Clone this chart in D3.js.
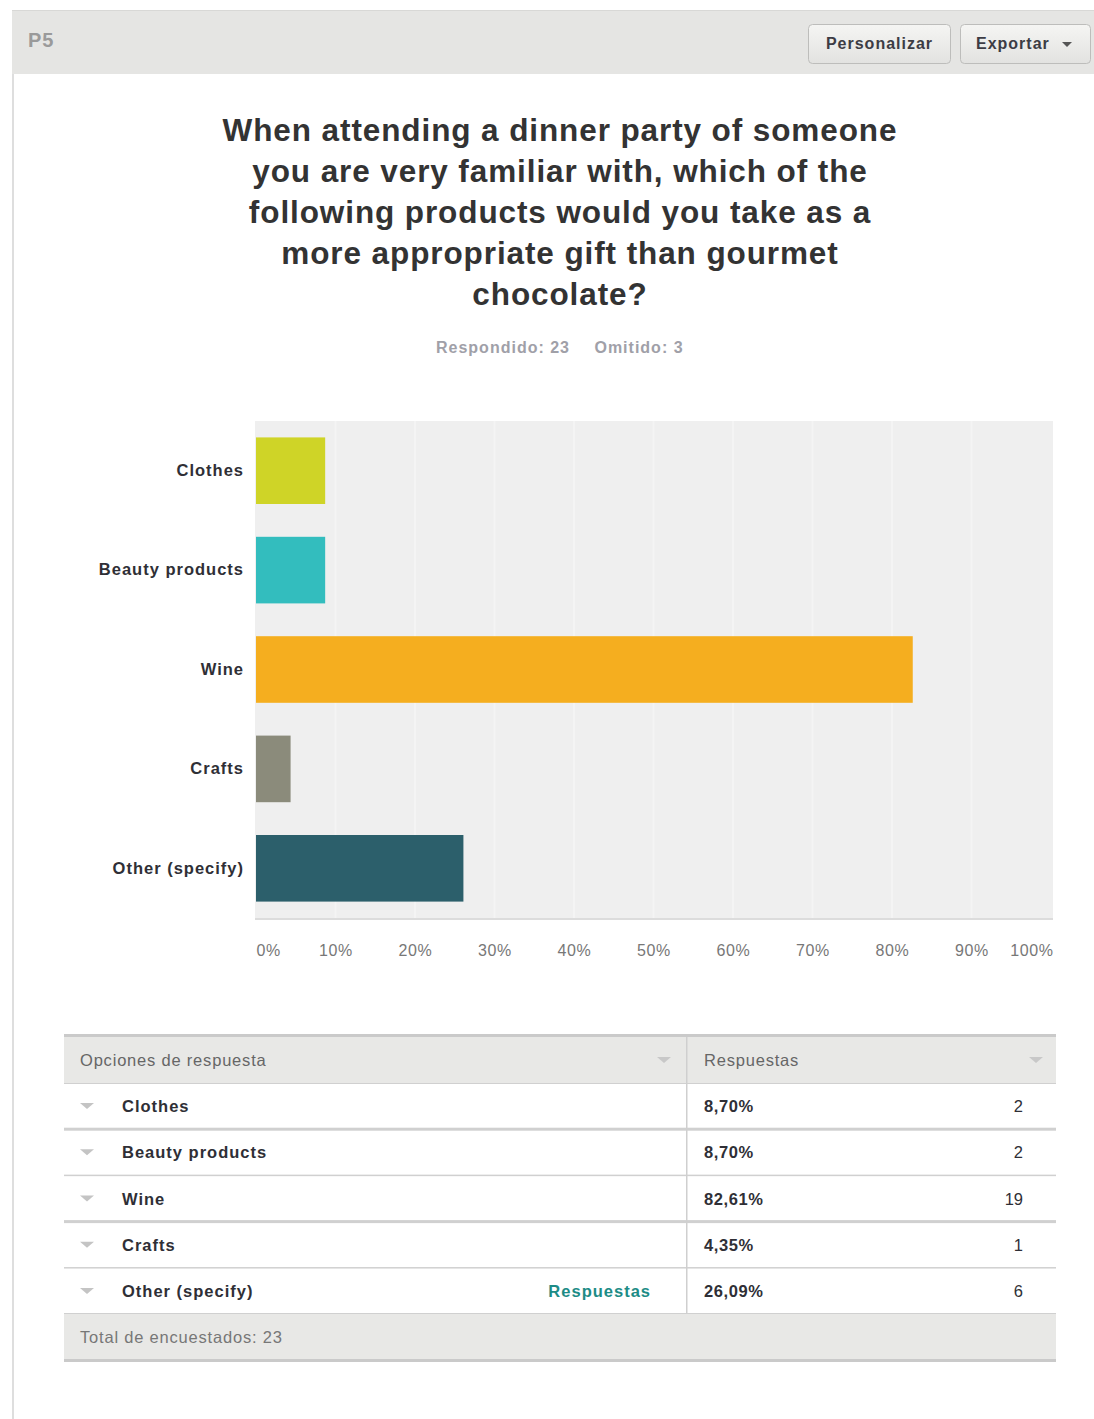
<!DOCTYPE html>
<html><head><meta charset="utf-8">
<script src="https://cdn.jsdelivr.net/npm/d3@7"></script>
<style>
html,body{margin:0;padding:0;background:#fff;}
svg{display:block;font-family:"Liberation Sans",Arial,Helvetica,sans-serif;}
</style></head>
<body>
<script>
const categories = ["Clothes","Beauty products","Wine","Crafts","Other (specify)"];
const percents = [8.70, 8.70, 82.61, 4.35, 26.09];
const counts = [2, 2, 19, 1, 6];
const barColors = ["#cfd427","#33bdbe","#f5ae1f","#8b8b7b","#2c5f6b"];
const tickValues = [0,10,20,30,40,50,60,70,80,90,100];
const titleLines = ["When attending a dinner party of someone","you are very familiar with, which of the","following products would you take as a","more appropriate gift than gourmet","chocolate?"];
const answered = 23, skipped = 3, total = 23;

const W = 1094, H = 1419;
const svg = d3.select("body").append("svg").attr("width",W).attr("height",H);
const defs = svg.append("defs");
const g1 = defs.append("linearGradient").attr("id","btn").attr("x1",0).attr("x2",0).attr("y1",0).attr("y2",1);
g1.append("stop").attr("offset","0%").attr("stop-color","#f5f5f3");
g1.append("stop").attr("offset","100%").attr("stop-color","#e2e2e0");

// panel left border
svg.append("rect").attr("x",12).attr("y",10).attr("width",2).attr("height",H-10).attr("fill","#dedede");
// header band
svg.append("rect").attr("x",12).attr("y",10).attr("width",W-12).attr("height",64).attr("fill","#e5e5e3");
svg.append("rect").attr("x",12).attr("y",10).attr("width",W-12).attr("height",1).attr("fill","#d8d8d6");
svg.append("text").attr("x",28).attr("y",47).attr("fill","#9a9a9a").attr("font-size",20).attr("font-weight","bold").attr("letter-spacing",1).text("P5");

// buttons
function button(x,w,label,arrow){
  svg.append("rect").attr("x",x+0.5).attr("y",24.5).attr("width",w).attr("height",39).attr("rx",4)
    .attr("fill","url(#btn)").attr("stroke","#bdbdbb");
  const t = svg.append("text").attr("y",49).attr("fill","#3c3c44").attr("font-size",16).attr("font-weight","bold").attr("letter-spacing",1);
  if(arrow){
    t.attr("x",x+16).text(label);
    svg.append("path").attr("d",`M${x+102},${42} l10,0 l-5,5 z`).attr("fill","#555");
  } else {
    t.attr("x",x+w/2+0.5).attr("text-anchor","middle").text(label);
  }
}
button(808,142,"Personalizar",false);
button(960,130,"Exportar",true);

// title
svg.append("g").selectAll("text").data(titleLines).join("text")
  .attr("x",560).attr("y",(d,i)=>141+i*41).attr("text-anchor","middle")
  .attr("font-size",31.5).attr("letter-spacing",0.9).attr("font-weight","bold").attr("fill","#333").text(d=>d);

svg.append("text").attr("x",503).attr("y",353).attr("text-anchor","middle").attr("font-size",16)
  .attr("letter-spacing",1).attr("font-weight","bold").attr("fill","#a0a0a8").text(`Respondido: ${answered}`);
svg.append("text").attr("x",639).attr("y",353).attr("text-anchor","middle").attr("font-size",16)
  .attr("letter-spacing",1).attr("font-weight","bold").attr("fill","#a0a0a8").text(`Omitido: ${skipped}`);

// chart
const plot = {x0:256, x1:1053, y0:421, y1:918};
const x = d3.scaleLinear().domain([0,100]).range([256,1051]);
const y = d3.scaleBand().domain(categories).range([plot.y0,plot.y1]).paddingInner(0.33).paddingOuter(0.165);

svg.append("rect").attr("x",plot.x0-1).attr("y",plot.y0).attr("width",plot.x1-plot.x0+1).attr("height",plot.y1-plot.y0).attr("fill","#efefef");
svg.append("rect").attr("x",plot.x0-1).attr("y",plot.y1).attr("width",plot.x1-plot.x0+1).attr("height",2).attr("fill","#dcdcdc");
svg.append("g").selectAll("line").data(tickValues.slice(1,-1)).join("line")
  .attr("x1",d=>x(d)).attr("x2",d=>x(d)).attr("y1",plot.y0).attr("y2",plot.y1)
  .attr("stroke","#f4f4f4").attr("stroke-width",2);

svg.append("g").selectAll("rect").data(categories).join("rect")
  .attr("x",x(0)).attr("y",d=>y(d)).attr("height",y.bandwidth())
  .attr("width",(d,i)=>x(percents[i])-x(0)).attr("fill",(d,i)=>barColors[i]);

const yAxis = svg.append("g").attr("transform",`translate(${plot.x0-12},0)`)
  .call(d3.axisLeft(y).tickSize(0).tickPadding(0));
yAxis.select(".domain").remove();
yAxis.selectAll("text").attr("font-size",16.5).attr("letter-spacing",1).attr("font-weight","bold").attr("fill","#2f2f36")
  .attr("font-family","'Liberation Sans',Arial,sans-serif");

const xAxis = svg.append("g").attr("transform",`translate(0,${plot.y1})`)
  .call(d3.axisBottom(x).tickValues(tickValues).tickSize(0).tickPadding(27).tickFormat(d=>d+"%"));
xAxis.select(".domain").remove();
xAxis.selectAll("text").attr("font-size",16).attr("letter-spacing",0.6).attr("fill","#777").attr("font-family","'Liberation Sans',Arial,sans-serif")
  .attr("text-anchor",d=>d===0?"start":(d===100?"end":"middle"))
  .attr("dx",d=>d===100?2:0);

// table
const tx0 = 64, tx1 = 1056, divX = 686;
const rowH = 46.2, headTop = 1037, headH = 46;
svg.append("rect").attr("x",tx0).attr("y",1034).attr("width",tx1-tx0).attr("height",3).attr("fill","#cacaca");
svg.append("rect").attr("x",tx0).attr("y",headTop).attr("width",tx1-tx0).attr("height",headH).attr("fill","#e8e8e6");
svg.append("text").attr("x",80).attr("y",1066).attr("font-size",16.5).attr("letter-spacing",0.8).attr("fill","#666").text("Opciones de respuesta");
svg.append("text").attr("x",704).attr("y",1066).attr("font-size",16.5).attr("letter-spacing",0.8).attr("fill","#666").text("Respuestas");
function tri(cx,cy,c){ svg.append("path").attr("d",`M${cx-7},${cy-3} l14,0 l-7,6 z`).attr("fill",c); }
tri(664,1060,"#c8c8c8"); tri(1036,1060,"#c8c8c8");

const rowTop = i => headTop + headH + i*rowH;
const rows = svg.append("g");
categories.forEach((c,i)=>{
  const top = rowTop(i);
  const thick = (i%2===0) ? 3 : 1.5;
  rows.append("rect").attr("x",tx0).attr("y",top+rowH-(i===4?1:thick/2)).attr("width",tx1-tx0).attr("height",i===4?1:thick).attr("fill","#d0d0d0");
  const cy = top + rowH/2;
  tri(87,cy,"#c4c4c4");
  rows.append("text").attr("x",122).attr("y",cy+6).attr("font-size",16.5).attr("letter-spacing",1).attr("font-weight","bold").attr("fill","#2f2f36").text(c);
  rows.append("text").attr("x",704).attr("y",cy+6).attr("font-size",16.5).attr("letter-spacing",0.6).attr("font-weight","bold").attr("fill","#2f2f36")
    .text(d3.format(".2f")(percents[i]).replace(".",",")+"%");
  rows.append("text").attr("x",1023).attr("y",cy+6).attr("text-anchor","end").attr("font-size",16.5).attr("fill","#2f2f36").text(counts[i]);
  if(i===categories.length-1){
    rows.append("text").attr("x",651).attr("y",cy+6).attr("text-anchor","end").attr("font-size",16.5).attr("letter-spacing",1).attr("font-weight","bold").attr("fill","#1d8c86").text("Respuestas");
  }
});
rows.append("rect").attr("x",tx0).attr("y",1083).attr("width",tx1-tx0).attr("height",1).attr("fill","#d0d0d0");
const footTop = rowTop(5);
svg.append("rect").attr("x",divX).attr("y",headTop).attr("width",1.5).attr("height",footTop-headTop).attr("fill","#cfcfcf");
svg.append("rect").attr("x",tx0).attr("y",footTop).attr("width",tx1-tx0).attr("height",45).attr("fill","#e8e8e6");
svg.append("rect").attr("x",tx0).attr("y",footTop+45).attr("width",tx1-tx0).attr("height",3).attr("fill","#cacaca");
svg.append("text").attr("x",80).attr("y",footTop+29).attr("font-size",16.5).attr("letter-spacing",0.8).attr("fill","#777").text(`Total de encuestados: ${total}`);
</script>
</body></html>
